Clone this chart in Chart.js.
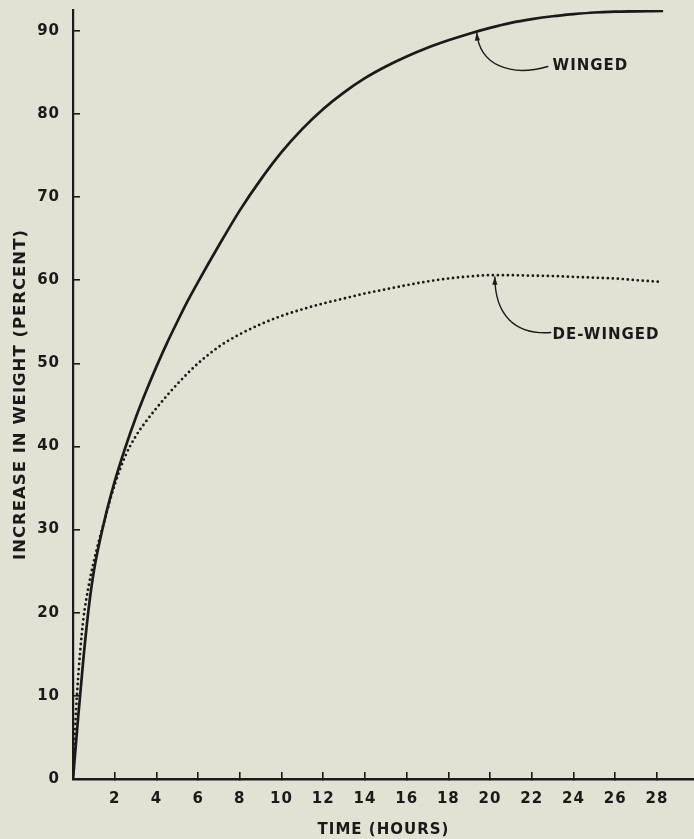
<!DOCTYPE html>
<html>
<head>
<meta charset="utf-8">
<script src="https://cdn.jsdelivr.net/npm/chart.js@4"></script>
<style>
  html, body { margin: 0; padding: 0; background: #e2e1d3; overflow: hidden; }
  #wrap { width: 694px; height: 839px; position: relative; }
</style>
</head>
<body>
<div id="wrap"><canvas id="c" width="694" height="839"></canvas></div>
<script>
// ---- data ----
const wingedHours = [0, 0.25, 0.5, 0.75, 1, 1.5, 2, 2.5, 3, 3.5, 4, 4.5, 5, 5.5, 6, 7, 8, 9, 10, 11, 12, 13, 14, 15, 16, 17, 18, 19, 20, 21, 22, 23, 24, 25, 26, 28.3];
const wingedGain  = [0, 7.5, 14.5, 20.5, 25, 31, 35.8, 39.8, 43.4, 46.6, 49.6, 52.4, 55.0, 57.5, 59.8, 64.2, 68.4, 72.1, 75.4, 78.2, 80.6, 82.6, 84.3, 85.7, 86.9, 87.95, 88.85, 89.65, 90.35, 90.95, 91.4, 91.75, 92.0, 92.2, 92.3, 92.4];
const dewingedHours = [0, 0.1, 0.2, 0.35, 0.5, 0.75, 1, 1.5, 2, 2.5, 3, 3.5, 4, 4.5, 5, 5.5, 6, 7, 8, 9, 10, 11, 12, 13, 14, 15, 16, 17, 18, 19, 20, 21, 22, 23, 24, 25, 26, 27, 28.2];
const dewingedGain  = [0, 6, 10.5, 15.5, 19.3, 23.2, 26.2, 31, 35.4, 38.8, 41.2, 43.0, 44.6, 46.1, 47.5, 48.8, 50.0, 52.0, 53.5, 54.7, 55.7, 56.5, 57.2, 57.8, 58.4, 58.9, 59.4, 59.85, 60.2, 60.45, 60.6, 60.6, 60.55, 60.5, 60.4, 60.3, 60.2, 60.0, 59.8];
const seriesNames = ['WINGED', 'DE-WINGED'];
const xTickStep = 2;
const yTickStep = 10;
const xTitle = 'TIME (HOURS)';
const yTitle = 'INCREASE IN WEIGHT (PERCENT)';
// annotation leader curves, in data units [hours, percent]
const noteTip   = [[19.36, 89.8], [20.23, 60.4]];
const noteCtrl1 = [[19.5, 85.9], [20.23, 55.8]];
const noteCtrl2 = [[20.95, 84.4], [21.19, 53.4]];
const noteEnd   = [[22.77, 85.7], [22.91, 53.7]];
const noteText  = [[23.0, 85.7], [23.0, 53.4]];

const ink = '#1d191a';
const toPts = (xs, ys) => xs.map((x, i) => ({x: x, y: ys[i]}));

const setup = {
  id: 'setup',
  beforeDraw(chart) { chart.ctx.letterSpacing = '1px'; }
};

const notes = {
  id: 'notes',
  afterDatasetsDraw(chart) {
    const ctx = chart.ctx;
    const xs = chart.scales.x, ys = chart.scales.y;
    const P = p => [xs.getPixelForValue(p[0]), ys.getPixelForValue(p[1])];
    ctx.save();
    ctx.letterSpacing = '1px';
    for (let i = 0; i < seriesNames.length; i++) {
      const a = P(noteTip[i]), b = P(noteCtrl1[i]), c = P(noteCtrl2[i]), d = P(noteEnd[i]);
      ctx.strokeStyle = ink; ctx.lineWidth = 1.4; ctx.lineCap = 'round';
      ctx.beginPath(); ctx.moveTo(a[0], a[1]);
      ctx.bezierCurveTo(b[0], b[1], c[0], c[1], d[0], d[1]);
      ctx.stroke();
      // arrowhead
      const ang = Math.atan2(a[1] - b[1], a[0] - b[0]);
      const L = 8, W = 2.6;
      ctx.fillStyle = ink;
      ctx.beginPath();
      ctx.moveTo(a[0], a[1]);
      ctx.lineTo(a[0] - L*Math.cos(ang) + W*Math.sin(ang), a[1] - L*Math.sin(ang) - W*Math.cos(ang));
      ctx.lineTo(a[0] - L*Math.cos(ang) - W*Math.sin(ang), a[1] - L*Math.sin(ang) + W*Math.cos(ang));
      ctx.closePath(); ctx.fill();
      const t = P(noteText[i]);
      ctx.font = 'bold 15px "DejaVu Sans"';
      ctx.textAlign = 'left'; ctx.textBaseline = 'middle';
      ctx.fillText(seriesNames[i], t[0], t[1]);
    }
    ctx.restore();
  }
};

new Chart(document.getElementById('c'), {
  type: 'line',
  data: {
    datasets: [
      {
        label: seriesNames[0],
        data: toPts(wingedHours, wingedGain),
        borderColor: ink, borderWidth: 2.7,
        pointRadius: 0, cubicInterpolationMode: 'monotone', fill: false
      },
      {
        label: seriesNames[1],
        data: toPts(dewingedHours, dewingedGain),
        borderColor: ink, borderWidth: 2.8,
        borderDash: [0, 5], borderCapStyle: 'round',
        pointRadius: 0, cubicInterpolationMode: 'monotone', fill: false
      }
    ]
  },
  options: {
    responsive: false,
    animation: false,
    devicePixelRatio: 1,
    layout: { padding: { top: 10, left: 0, right: 0, bottom: 0 } },
    plugins: { legend: { display: false }, tooltip: { enabled: false } },
    scales: {
      x: {
        type: 'linear', min: 0, max: 29.78,
        border: { display: true, color: ink, width: 2.5 },
        grid: { drawOnChartArea: false, drawTicks: true, tickLength: -7, color: ink, lineWidth: 1.6 },
        ticks: {
          stepSize: xTickStep, includeBounds: false, padding: 18, color: ink,
          maxRotation: 0, autoSkip: false,
          font: { family: 'DejaVu Sans', size: 15, weight: 'bold' }
        },
        afterBuildTicks: s => { s.ticks = s.ticks.filter(t => t.value > 0); },
        title: {
          display: true, text: xTitle, color: ink, padding: 0,
          font: { family: 'DejaVu Sans', size: 15, weight: 'bold', lineHeight: 1.2 }
        },
        afterFit: s => { s.height = 60; s.paddingLeft = 0; s.paddingRight = 0; }
      },
      y: {
        type: 'linear', min: 0, max: 92.5,
        border: { display: true, color: ink, width: 2.2 },
        grid: { drawOnChartArea: false, drawTicks: true, tickLength: -7, color: ink, lineWidth: 1.6 },
        ticks: {
          stepSize: yTickStep, includeBounds: false, padding: 20, color: ink,
          font: { family: 'DejaVu Sans', size: 15, weight: 'bold' }
        },
        title: {
          display: true, text: yTitle, color: ink, padding: { top: 11, bottom: 0 },
          font: { family: 'DejaVu Sans', size: 16.5, weight: 'bold', lineHeight: 1.2 }
        },
        afterFit: s => { s.width = 73; s.paddingTop = 0; s.paddingBottom = 0; }
      }
    }
  },
  plugins: [setup, notes]
});
</script>
</body>
</html>
